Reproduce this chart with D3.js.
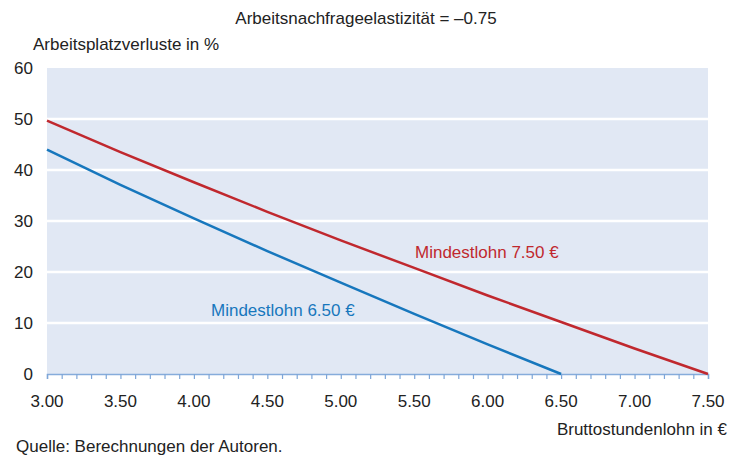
<!DOCTYPE html>
<html><head><meta charset="utf-8">
<script src="https://cdn.jsdelivr.net/npm/d3@7"></script>
<style>body{margin:0;background:#fff}svg{display:block}text{font-family:"Liberation Sans",Arial,sans-serif}</style>
</head><body>
<svg id="c" width="736" height="456"></svg>
<script>
const wages = [3.0,3.5,4.0,4.5,5.0,5.5,6.0,6.5,7.0,7.5];
const loss750 = [49.7,43.5,37.6,31.8,26.2,20.8,15.4,10.2,5.0,0];
const wages650 = [3.0,3.5,4.0,4.5,5.0,5.5,6.0,6.5];
const loss650 = [44.0,37.1,30.5,24.1,17.9,11.8,5.8,0];
const xTicks = [3.0,3.5,4.0,4.5,5.0,5.5,6.0,6.5,7.0,7.5];
const yTicks = [0,10,20,30,40,50,60];

const svg = d3.select("#c");
const x = d3.scaleLinear().domain([3,7.5]).range([47,708]);
const y = d3.scaleLinear().domain([0,60]).range([374,68]);
const txt = "#222";
const fs = 17;

svg.append("rect").attr("x",x(3)).attr("y",y(60)).attr("width",x(7.5)-x(3)).attr("height",y(0)-y(60)).attr("fill","#e1e8f4");
svg.append("g").selectAll("line").data(yTicks.filter(d=>d>0&&d<60)).join("line")
  .attr("x1",x(3)).attr("x2",x(7.5)).attr("y1",d=>y(d)).attr("y2",d=>y(d))
  .attr("stroke","#fff").attr("stroke-width",2.5);

const xa = d3.axisBottom(x).tickValues(d3.range(30,76).map(d=>d/10)).tickSize(5).tickFormat("");
const gx = svg.append("g").attr("transform",`translate(0,${y(0)})`).call(xa);
gx.select(".domain").attr("stroke","#86acdb").attr("stroke-width",1.5);
gx.selectAll(".tick line").attr("stroke","#7ea6d8").attr("stroke-width",1.2);
svg.append("g").selectAll("text").data(xTicks).join("text")
  .attr("x",d=>x(d)).attr("y",407).attr("text-anchor","middle").attr("font-size",fs).attr("fill",txt)
  .text(d=>d.toFixed(2));
svg.append("g").selectAll("text").data(yTicks).join("text")
  .attr("x",33).attr("y",d=>y(d)+6).attr("text-anchor","end").attr("font-size",fs).attr("fill",txt)
  .text(d=>d);

const line = d3.line().x(d=>x(d[0])).y(d=>y(d[1]));
svg.append("path").datum(wages.map((w,i)=>[w,loss750[i]])).attr("d",line).attr("fill","none").attr("stroke","#c0282e").attr("stroke-width",2.5);
svg.append("path").datum(wages650.map((w,i)=>[w,loss650[i]])).attr("d",line).attr("fill","none").attr("stroke","#1777bd").attr("stroke-width",2.5);

svg.append("text").attr("x",415).attr("y",258).attr("font-size",fs).attr("fill","#c0282e").text("Mindestlohn 7.50 €");
svg.append("text").attr("x",211).attr("y",316).attr("font-size",fs).attr("fill","#1777bd").text("Mindestlohn 6.50 €");

svg.append("text").attr("x",366).attr("y",24).attr("text-anchor","middle").attr("font-size",fs).attr("fill",txt).text("Arbeitsnachfrageelastizität = –0.75");
svg.append("text").attr("x",33).attr("y",50).attr("font-size",fs).attr("fill",txt).text("Arbeitsplatzverluste in %");
svg.append("text").attr("x",727).attr("y",435).attr("text-anchor","end").attr("font-size",fs).attr("fill",txt).text("Bruttostundenlohn in €");
svg.append("text").attr("x",16).attr("y",452).attr("font-size",fs).attr("fill",txt).text("Quelle: Berechnungen der Autoren.");
</script>
</body></html>
